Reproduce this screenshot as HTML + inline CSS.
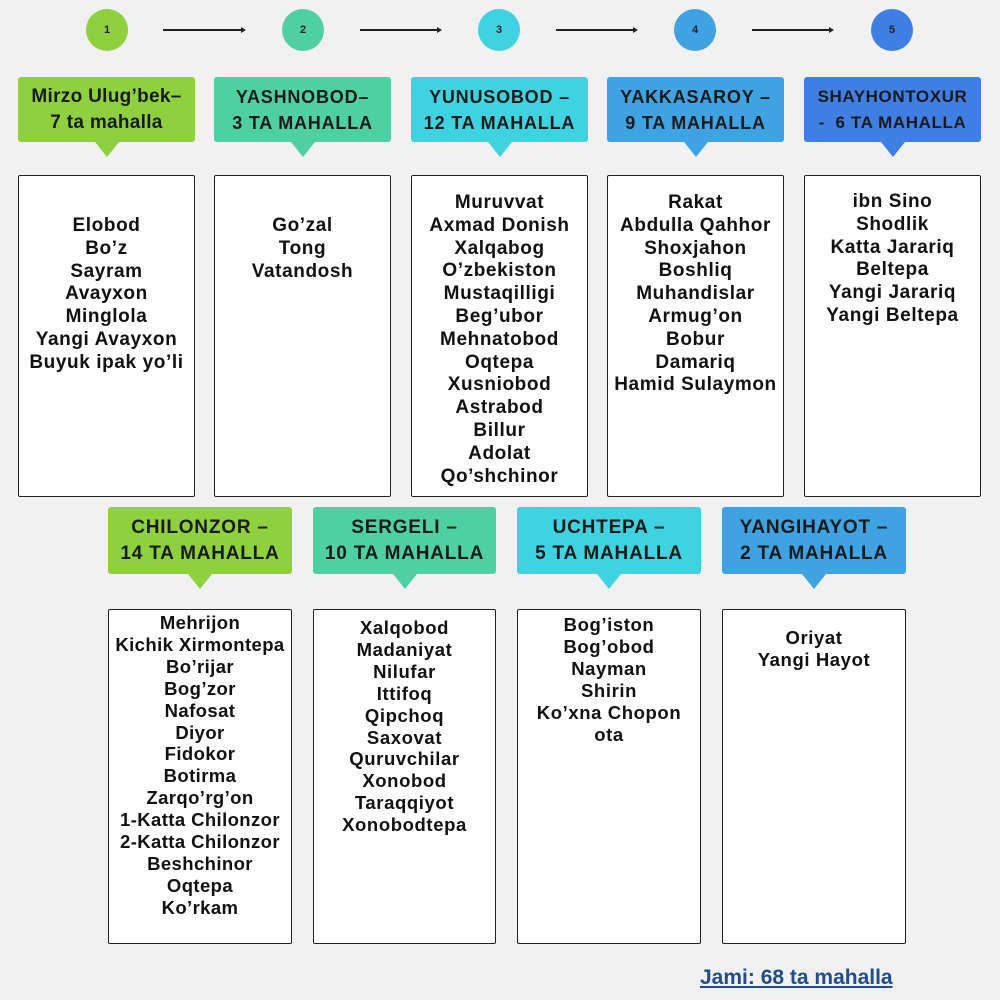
<!DOCTYPE html>
<html><head><meta charset="utf-8">
<style>
html,body{margin:0;padding:0}
body{width:1000px;height:1000px;position:relative;background:#f1f1f1;overflow:hidden;font-family:"Liberation Sans",sans-serif;font-weight:bold;color:#111}
.c{position:absolute;width:42px;height:42px;border-radius:50%;top:9px;font-size:11px;text-align:center;line-height:42px;color:#222}
.ar{position:absolute;top:29px;height:1.5px;background:#222}
.ar::after{content:"";position:absolute;right:-2px;top:-2.5px;border-left:5px solid #222;border-top:3px solid transparent;border-bottom:3px solid transparent}
.h{position:absolute;border-radius:3px;text-align:center;font-size:19px;line-height:26px;color:#1a1a1a;display:flex;align-items:center;justify-content:center;flex-direction:column;letter-spacing:0.8px;white-space:nowrap}
.h::after{content:"";position:absolute;left:50%;margin-left:-12px;bottom:-15px;border-top:15px solid var(--col);border-left:12px solid transparent;border-right:12px solid transparent}
.b{position:absolute;background:#fff;border:1.5px solid #222;border-radius:2px;box-sizing:border-box;text-align:center;font-size:19px;letter-spacing:0.6px;white-space:nowrap}
.jami{position:absolute;left:700px;top:966px;font-size:21px;color:#1f4e8c;text-decoration:underline}
</style></head><body>
<div class="c" style="left:86px;background:#8fd03f">1</div>
<div class="c" style="left:282px;background:#4fd0a2">2</div>
<div class="c" style="left:478px;background:#3fd2e0">3</div>
<div class="c" style="left:674px;background:#3fa3e3">4</div>
<div class="c" style="left:871px;background:#3f7fe3">5</div>
<div class="ar" style="left:163px;width:81px"></div>
<div class="ar" style="left:360px;width:80px"></div>
<div class="ar" style="left:556px;width:80px"></div>
<div class="ar" style="left:752px;width:80px"></div>

<div class="h" style="--col:#8fd03f;background:#8fd03f;left:18px;top:77px;width:177px;height:65px;letter-spacing:0.3px"><div>Mirzo Ulug’bek–</div><div>7 ta mahalla</div></div>
<div class="h" style="--col:#4fd0a2;background:#4fd0a2;left:214px;top:77px;width:177px;height:65px;font-size:18px"><div>YASHNOBOD–</div><div>3 TA MAHALLA</div></div>
<div class="h" style="--col:#3fd2e0;background:#3fd2e0;left:411px;top:77px;width:177px;height:65px;font-size:18px"><div>YUNUSOBOD –</div><div>12 TA MAHALLA</div></div>
<div class="h" style="--col:#3fa3e3;background:#3fa3e3;left:607px;top:77px;width:177px;height:65px;font-size:18px"><div>YAKKASAROY –</div><div>9 TA MAHALLA</div></div>
<div class="h" style="--col:#3f7fe3;background:#3f7fe3;left:804px;top:77px;width:177px;height:65px;font-size:17px;letter-spacing:0.6px"><div>SHAYHONTOXUR</div><div>-&nbsp; 6 TA MAHALLA</div></div>

<div class="b" style="left:18px;top:175px;width:177px;height:322px;padding-top:39px;line-height:22.8px">Elobod<br>Bo’z<br>Sayram<br>Avayxon<br>Minglola<br>Yangi Avayxon<br>Buyuk ipak yo’li</div>
<div class="b" style="left:214px;top:175px;width:177px;height:322px;padding-top:39px;line-height:22.8px">Go’zal<br>Tong<br>Vatandosh</div>
<div class="b" style="left:411px;top:175px;width:177px;height:322px;padding-top:16px;line-height:22.8px">Muruvvat<br>Axmad Donish<br>Xalqabog<br>O’zbekiston<br>Mustaqilligi<br>Beg’ubor<br>Mehnatobod<br>Oqtepa<br>Xusniobod<br>Astrabod<br>Billur<br>Adolat<br>Qo’shchinor</div>
<div class="b" style="left:607px;top:175px;width:177px;height:322px;padding-top:16px;line-height:22.8px">Rakat<br>Abdulla Qahhor<br>Shoxjahon<br>Boshliq<br>Muhandislar<br>Armug’on<br>Bobur<br>Damariq<br>Hamid Sulaymon</div>
<div class="b" style="left:804px;top:175px;width:177px;height:322px;padding-top:15px;line-height:22.8px">ibn Sino<br>Shodlik<br>Katta Jarariq<br>Beltepa<br>Yangi Jarariq<br>Yangi Beltepa</div>

<div class="h" style="--col:#8fd03f;background:#8fd03f;left:108px;top:507px;width:184px;height:67px"><div>CHILONZOR –</div><div>14 TA MAHALLA</div></div>
<div class="h" style="--col:#4fd0a2;background:#4fd0a2;left:313px;top:507px;width:183px;height:67px"><div>SERGELI –</div><div>10 TA MAHALLA</div></div>
<div class="h" style="--col:#3fd2e0;background:#3fd2e0;left:517px;top:507px;width:184px;height:67px"><div>UCHTEPA –</div><div>5 TA MAHALLA</div></div>
<div class="h" style="--col:#3fa3e3;background:#3fa3e3;left:722px;top:507px;width:184px;height:67px"><div>YANGIHAYOT –</div><div>2 TA MAHALLA</div></div>

<div class="b" style="left:108px;top:609px;width:184px;height:335px;padding-top:2px;line-height:21.9px;font-size:18.5px;letter-spacing:0.4px">Mehrijon<br>Kichik Xirmontepa<br>Bo’rijar<br>Bog’zor<br>Nafosat<br>Diyor<br>Fidokor<br>Botirma<br>Zarqo’rg’on<br>1-Katta Chilonzor<br>2-Katta Chilonzor<br>Beshchinor<br>Oqtepa<br>Ko’rkam</div>
<div class="b" style="left:313px;top:609px;width:183px;height:335px;padding-top:7px;line-height:21.9px;font-size:18.5px">Xalqobod<br>Madaniyat<br>Nilufar<br>Ittifoq<br>Qipchoq<br>Saxovat<br>Quruvchilar<br>Xonobod<br>Taraqqiyot<br>Xonobodtepa</div>
<div class="b" style="left:517px;top:609px;width:184px;height:335px;padding-top:4px;line-height:21.9px;font-size:18.5px">Bog’iston<br>Bog’obod<br>Nayman<br>Shirin<br>Ko’xna Chopon<br>ota</div>
<div class="b" style="left:722px;top:609px;width:184px;height:335px;padding-top:17px;line-height:21.9px;font-size:18.5px">Oriyat<br>Yangi Hayot</div>

<div class="jami">Jami: 68 ta mahalla</div>
</body></html>
